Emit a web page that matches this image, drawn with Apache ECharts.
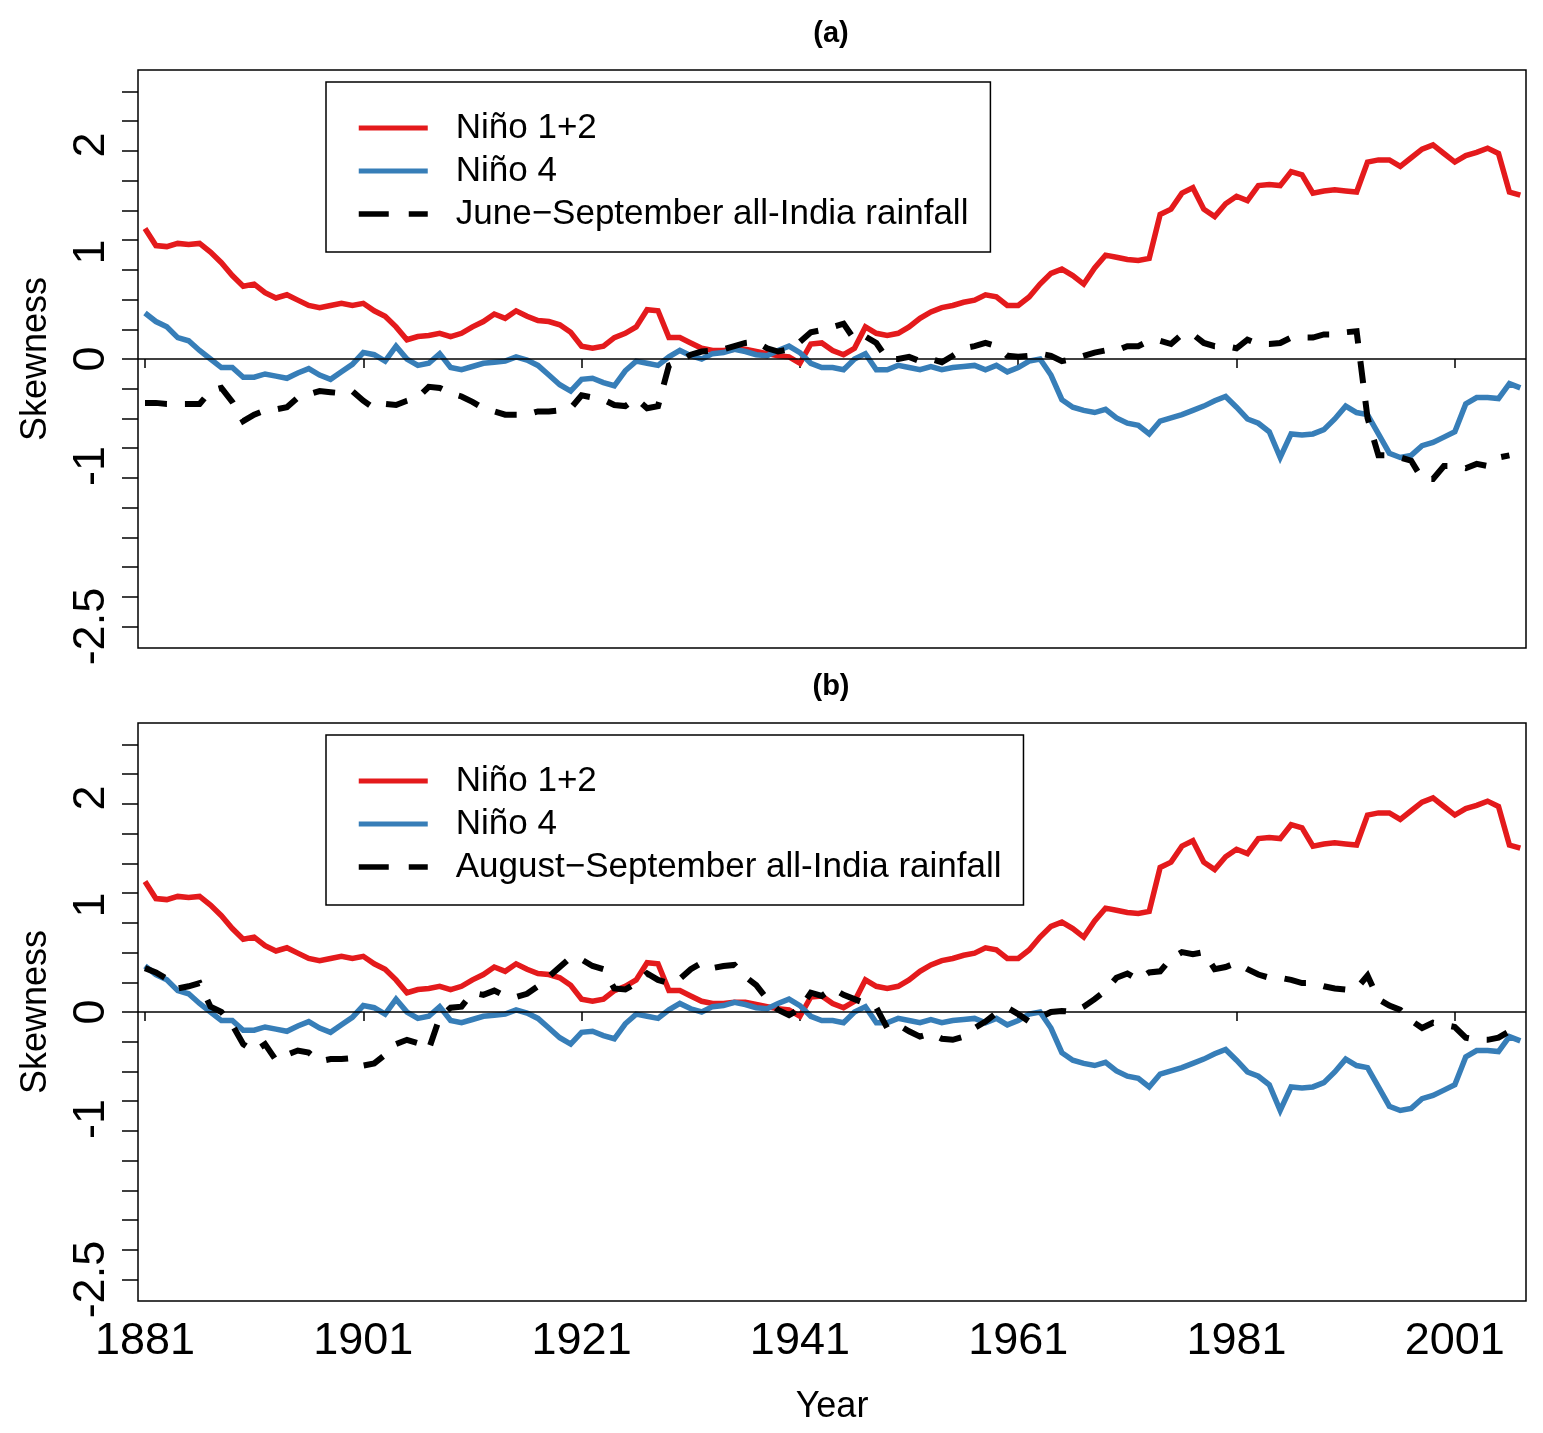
<!DOCTYPE html>
<html>
<head>
<meta charset="utf-8">
<script src="https://cdn.jsdelivr.net/npm/echarts@6/dist/echarts.min.js"></script>
<style>
html,body{margin:0;padding:0;background:#fff;}
#chart{width:1543px;height:1433px;}
</style>
</head>
<body>
<div id="chart"></div>
<script>
// ---- data ----
const years = [];
for (let y = 1881; y <= 2007; y++) years.push(y);

const nino12 = [
  1.22, 1.06, 1.05, 1.08, 1.07, 1.08, 1.00, 0.90, 0.78, 0.68,
  0.70, 0.62, 0.57, 0.60, 0.55, 0.50, 0.48, 0.50, 0.52, 0.50,
  0.52, 0.45, 0.40, 0.30, 0.18, 0.21, 0.22, 0.24, 0.21, 0.24,
  0.30, 0.35, 0.42, 0.38, 0.45, 0.40, 0.36, 0.35, 0.32, 0.25,
  0.12, 0.10, 0.12, 0.20, 0.24, 0.30, 0.46, 0.45, 0.20, 0.20,
  0.15, 0.10, 0.08, 0.08, 0.09, 0.09, 0.07, 0.05, 0.03, 0.02,
  -0.04, 0.14, 0.15, 0.08, 0.04, 0.10, 0.30, 0.24, 0.22, 0.24,
  0.30, 0.38, 0.44, 0.48, 0.50, 0.53, 0.55, 0.60, 0.58, 0.50,
  0.50, 0.58, 0.70, 0.80, 0.84, 0.78, 0.70, 0.85, 0.97, 0.95,
  0.93, 0.92, 0.94, 1.35, 1.40, 1.55, 1.60, 1.40, 1.33, 1.45,
  1.52, 1.48, 1.62, 1.63, 1.62, 1.75, 1.72, 1.55, 1.57, 1.58,
  1.57, 1.56, 1.84, 1.86, 1.86, 1.80, 1.88, 1.96, 2.00, 1.92,
  1.84, 1.90, 1.93, 1.97, 1.92, 1.56, 1.53
];

const nino4 = [
  0.43, 0.35, 0.30, 0.20, 0.17, 0.08, 0.00, -0.08, -0.08, -0.17,
  -0.17, -0.14, -0.16, -0.18, -0.13, -0.09, -0.15, -0.19, -0.12, -0.05,
  0.06, 0.04, -0.02, 0.12, 0.00, -0.06, -0.04, 0.05, -0.08, -0.10,
  -0.07, -0.04, -0.03, -0.02, 0.02, -0.01, -0.06, -0.15, -0.24, -0.30,
  -0.19, -0.18, -0.22, -0.25, -0.11, -0.02, -0.04, -0.06, 0.02, 0.08,
  0.03, 0.00, 0.05, 0.06, 0.09, 0.07, 0.04, 0.03, 0.08, 0.12,
  0.06, -0.04, -0.08, -0.08, -0.10, 0.00, 0.05, -0.10, -0.10, -0.06,
  -0.08, -0.10, -0.07, -0.10, -0.08, -0.07, -0.06, -0.10, -0.06, -0.12,
  -0.08, -0.02, 0.00, -0.15, -0.38, -0.45, -0.48, -0.50, -0.47, -0.55,
  -0.60, -0.62, -0.70, -0.58, -0.55, -0.52, -0.48, -0.44, -0.39, -0.35,
  -0.45, -0.56, -0.60, -0.68, -0.92, -0.70, -0.71, -0.70, -0.66, -0.56,
  -0.44, -0.50, -0.52, -0.70, -0.88, -0.92, -0.90, -0.81, -0.78, -0.73,
  -0.68, -0.42, -0.36, -0.36, -0.37, -0.23, -0.27
];

// June-September all-India rainfall (1881-2006)
const rainJS = [
  -0.41, -0.41, -0.42, -0.42, -0.42, -0.42, -0.30, -0.27, -0.40, -0.58,
  -0.52, -0.48, -0.47, -0.45, -0.36, -0.33, -0.30, -0.31, -0.32, -0.30,
  -0.39, -0.46, -0.42, -0.43, -0.39, -0.36, -0.26, -0.27, -0.32, -0.35,
  -0.40, -0.46, -0.49, -0.52, -0.52, -0.52, -0.49, -0.49, -0.48, -0.46,
  -0.34, -0.36, -0.38, -0.43, -0.44, -0.37, -0.46, -0.44, -0.06, -0.02,
  0.04, 0.07, 0.08, 0.09, 0.12, 0.15, 0.16, 0.10, 0.07, 0.09,
  0.16, 0.25, 0.27, 0.30, 0.33, 0.18, 0.21, 0.15, 0.00, 0.00,
  0.02, -0.02, 0.00, -0.03, 0.03, 0.10, 0.12, 0.15, 0.12, 0.03,
  0.02, 0.03, 0.05, 0.03, -0.02, 0.00, 0.03, 0.06, 0.08, 0.08,
  0.12, 0.12, 0.17, 0.17, 0.14, 0.23, 0.23, 0.15, 0.12, 0.12,
  0.10, 0.18, 0.14, 0.14, 0.15, 0.20, 0.20, 0.20, 0.23, 0.23,
  0.25, 0.26, -0.55, -0.90, -0.90, -0.92, -0.95, -1.12, -1.12, -1.00,
  -1.00, -1.02, -0.98, -1.00, -0.92, -0.90
];

// August-September all-India rainfall (1881-2007)
const rainAS = [
  0.41, 0.37, 0.31, 0.22, 0.24, 0.27, 0.05, 0.00, -0.12, -0.30,
  -0.37, -0.30, -0.45, -0.40, -0.36, -0.38, -0.46, -0.44, -0.44, -0.43,
  -0.50, -0.48, -0.40, -0.30, -0.26, -0.29, -0.35, -0.05, 0.04, 0.05,
  0.18, 0.16, 0.20, 0.15, 0.14, 0.17, 0.24, 0.33, 0.42, 0.51,
  0.49, 0.43, 0.40, 0.22, 0.21, 0.27, 0.36, 0.30, 0.27, 0.31,
  0.40, 0.46, 0.41, 0.43, 0.44, 0.33, 0.25, 0.12, 0.02, -0.03,
  0.03, 0.18, 0.15, 0.22, 0.16, 0.12, 0.08, 0.04, -0.15, -0.12,
  -0.18, -0.23, -0.20, -0.25, -0.26, -0.23, -0.15, -0.09, -0.01, 0.04,
  -0.02, -0.09, -0.05, 0.00, 0.01, 0.00, 0.05, 0.12, 0.20, 0.32,
  0.36, 0.30, 0.37, 0.38, 0.50, 0.56, 0.54, 0.56, 0.40, 0.42,
  0.46, 0.40, 0.35, 0.32, 0.32, 0.30, 0.27, 0.27, 0.24, 0.22,
  0.21, 0.22, 0.34, 0.12, 0.06, 0.02, -0.08, -0.15, -0.10, -0.12,
  -0.14, -0.24, -0.26, -0.26, -0.24, -0.18, -0.14
];

const xTickYears = [1881, 1901, 1921, 1941, 1961, 1981, 2001];
const yLabelValues = [-2.5, -1, 0, 1, 2];
const yTickValues = [-2.5, -2.2222, -1.9444, -1.6667, -1.3889, -1.1111, -0.8333, -0.5556, -0.2778, 0,
  0.2778, 0.5556, 0.8333, 1.1111, 1.3889, 1.6667, 1.9444, 2.2222, 2.5];

const nameN12 = 'Niño 1+2';
const nameN4 = 'Niño 4';
const nameJS = 'June\u2212September all-India rainfall';
const nameAS = 'August\u2212September all-India rainfall';

// ---- helpers ----
function pairs(vals) { return vals.map((v, i) => [years[i], v]); }

const FONT = 'Liberation Sans, Arial, sans-serif';
const RED = '#E41A1C', BLUE = '#377EB8', BLACK = '#000000';
const DASH = [22, 18];

function xAxisFor(gi, withLabels) {
  const ax = {
    gridIndex: gi, type: 'value', min: 1880.36, max: 2007.52,
    splitLine: { show: false },
    axisLine: { show: false },
    axisTick: { show: true, length: 9, lineStyle: { color: '#000', width: 1.5 }, customValues: xTickYears },
    axisLabel: { show: withLabels, customValues: xTickYears, fontSize: 45, color: '#000', fontFamily: FONT, margin: 18,
      formatter: v => String(v) }
  };
  if (withLabels) {
    ax.name = 'Year';
    ax.nameLocation = 'middle';
    ax.nameGap = 88;
    ax.nameTextStyle = { fontSize: 36, color: '#000', fontFamily: FONT };
  }
  return ax;
}
function yAxisFor(gi) {
  return {
    gridIndex: gi, type: 'value', min: -2.7, max: 2.7,
    splitLine: { show: false },
    axisLine: { show: false },
    axisTick: { show: true, length: 16, lineStyle: { color: '#000', width: 1.5 }, customValues: yTickValues },
    axisLabel: { show: true, customValues: yLabelValues, rotate: 90, fontSize: 45, color: '#000', fontFamily: FONT, margin: 24,
      formatter: v => String(v) },
    name: 'Skewness', nameLocation: 'middle', nameGap: 84,
    nameTextStyle: { fontSize: 36, color: '#000', fontFamily: FONT }
  };
}
function lineSeries(name, vals, gi, color, width, dashed, zeroLine) {
  const s = {
    name: name, type: 'line', xAxisIndex: gi, yAxisIndex: gi,
    data: pairs(vals), symbol: 'none', smooth: false,
    lineStyle: { color: color, width: width, type: dashed ? DASH : 'solid', cap: 'butt', join: 'miter' },
    itemStyle: { color: color },
    emphasis: { disabled: true }
  };
  if (zeroLine) {
    s.markLine = {
      silent: true, symbol: ['none', 'none'], label: { show: false },
      lineStyle: { color: '#000', width: 1.5, type: 'solid' },
      data: [{ yAxis: 0 }]
    };
  }
  return s;
}
function legendItem(name, color, width, dashed) {
  return {
    name: name,
    itemStyle: { opacity: 0 },
    lineStyle: { color: color, width: width, type: dashed ? [30, 20] : 'solid', cap: 'butt', opacity: 1 }
  };
}
function legendFor(top, rainName) {
  return {
    data: [legendItem(nameN12, RED, 5, false), legendItem(nameN4, BLUE, 5, false), legendItem(rainName, BLACK, 5.5, true)],
    left: 326, top: top, orient: 'vertical',
    borderColor: '#000', borderWidth: 1.5, backgroundColor: '#fff',
    padding: [28, 22, 20, 30],
    itemWidth: 69, itemHeight: 14, itemGap: 7,
    selectedMode: false,
    textStyle: { fontSize: 35, color: '#000', fontFamily: FONT, lineHeight: 36, padding: [0, 0, 0, 23] }
  };
}

const chart = echarts.init(document.getElementById('chart'), null, { renderer: 'canvas' });
chart.setOption({
  animation: false,
  backgroundColor: '#fff',
  graphic: [
    { type: 'text', x: 831, y: 34, style: { text: '(a)', fill: '#000', font: 'bold 29px ' + FONT, align: 'center', verticalAlign: 'middle' } },
    { type: 'text', x: 831, y: 687, style: { text: '(b)', fill: '#000', font: 'bold 29px ' + FONT, align: 'center', verticalAlign: 'middle' } }
  ],
  grid: [
    { left: 138, top: 70, width: 1388, height: 578, show: true, borderColor: '#000', borderWidth: 1.5, backgroundColor: 'transparent' },
    { left: 138, top: 723, width: 1388, height: 578, show: true, borderColor: '#000', borderWidth: 1.5, backgroundColor: 'transparent' }
  ],
  xAxis: [xAxisFor(0, false), xAxisFor(1, true)],
  yAxis: [yAxisFor(0), yAxisFor(1)],
  legend: [
    legendFor(82, nameJS),
    legendFor(735, nameAS)
  ],
  series: [
    lineSeries(nameN12, nino12, 0, RED, 5.5, false, true),
    lineSeries(nameN4, nino4, 0, BLUE, 5.5, false, false),
    lineSeries(nameJS, rainJS, 0, BLACK, 6, true, false),
    lineSeries(nameN12, nino12, 1, RED, 5.5, false, true),
    lineSeries(nameN4, nino4, 1, BLUE, 5.5, false, false),
    lineSeries(nameAS, rainAS, 1, BLACK, 6, true, false)
  ]
});
</script>
</body>
</html>
